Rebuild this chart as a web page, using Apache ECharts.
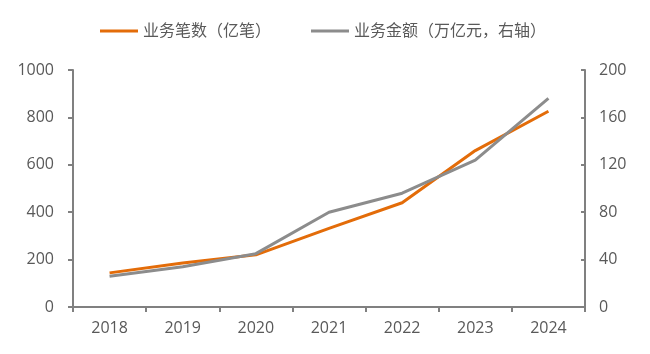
<!DOCTYPE html>
<html>
<head>
<meta charset="utf-8">
<script src="https://cdn.jsdelivr.net/npm/echarts@6/dist/echarts.min.js"></script>
<style>
  html, body { margin: 0; padding: 0; background: #fff; }
  #chart { width: 650px; height: 354px; }
</style>
</head>
<body>
<div id="chart"></div>
<script>
// Data
var years = ['2018', '2019', '2020', '2021', '2022', '2023', '2024'];
var countValues = [144, 186, 220, 332, 440, 660, 826];   // left axis
var amountValues = [26, 34, 45, 80, 96, 124, 176];       // right axis
var countName = '业务笔数（亿笔）';
var amountName = '业务金额（万亿元，右轴）';

var dom = document.getElementById('chart');
var chart = echarts.init(dom, null, {renderer: 'canvas'});

var axisGray = '#808080';
var labelGray = '#595959';
var font = '"Open Sans", "Noto Sans CJK SC", sans-serif';

var option = {
  animation: false,
  textStyle: {fontFamily: font},
  legend: {
    top: 18,
    left: 95,
    itemWidth: 38,
    itemHeight: 3,
    itemGap: 40,
    icon: 'rect',
    textStyle: {color: labelGray, fontSize: 16, fontFamily: font},
    data: [countName, amountName]
  },
  grid: {left: 73, right: 65, top: 70, bottom: 47},
  xAxis: {
    type: 'category',
    data: years,
    boundaryGap: true,
    axisLine: {lineStyle: {color: axisGray, width: 2}},
    axisTick: {show: true, length: 5, lineStyle: {color: axisGray, width: 2}},
    axisLabel: {color: labelGray, fontSize: 16, margin: 13}
  },
  yAxis: [
    {
      type: 'value',
      min: 0, max: 1000, interval: 200,
      axisLine: {show: true, lineStyle: {color: axisGray, width: 2}},
      axisTick: {show: true, length: 5, lineStyle: {color: axisGray, width: 2}},
      axisLabel: {color: labelGray, fontSize: 16, margin: 19, formatter: function (v) { return String(v); }},
      splitLine: {show: false}
    },
    {
      type: 'value',
      min: 0, max: 200, interval: 40,
      position: 'right',
      axisLine: {show: true, lineStyle: {color: axisGray, width: 2}},
      axisTick: {show: true, inside: true, length: 4, lineStyle: {color: axisGray, width: 2}},
      axisLabel: {color: labelGray, fontSize: 16, margin: 14},
      splitLine: {show: false}
    }
  ],
  series: [
    {
      name: countName,
      type: 'line',
      yAxisIndex: 0,
      data: countValues,
      symbol: 'none',
      lineStyle: {color: '#E36C09', width: 3},
      itemStyle: {color: '#E36C09'}
    },
    {
      name: amountName,
      type: 'line',
      yAxisIndex: 1,
      data: amountValues,
      symbol: 'none',
      lineStyle: {color: '#8C8C8C', width: 3},
      itemStyle: {color: '#8C8C8C'}
    }
  ]
};

chart.setOption(option);
</script>
</body>
</html>
